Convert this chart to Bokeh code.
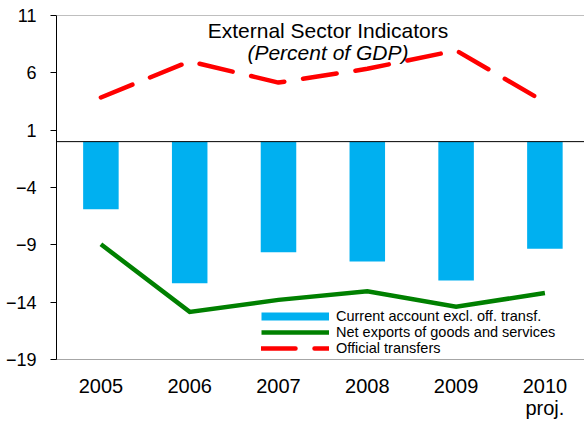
from bokeh.plotting import figure
from bokeh.models import Range1d, FixedTicker, Span, Label, Legend, LegendItem, ColumnDataSource
from bokeh.embed import file_html
from bokeh.resources import INLINE

years = ["2005", "2006", "2007", "2008", "2009", "2010\nproj."]
current_account = [-5.9, -12.35, -9.65, -10.45, -12.1, -9.35]
net_exports = [-8.95, -14.85, -13.8, -13.05, -14.4, -13.2]
official_transfers = [3.85, 7.0, 5.15, 6.35, 7.95, 3.45]
y_ticks = [-19, -14, -9, -4, 1, 6, 11]

xs = list(range(len(years)))
src = ColumnDataSource(dict(x=xs, ca=current_account, ne=net_exports, ot=official_transfers))

FONT = "Liberation Sans"
BLUE = "#00B0F0"
GREEN = "#008000"
RED = "#FF0000"

p = figure(width=584, height=421, output_backend="svg", toolbar_location=None,
           x_range=Range1d(-0.5, 5.446), y_range=Range1d(-19, 11),
           min_border_left=56, min_border_right=0, min_border_top=15, min_border_bottom=62)
p.outline_line_color = None
p.xgrid.visible = False
p.ygrid.visible = False

bars = p.vbar(x="x", top="ca", bottom=0, width=0.4, source=src, fill_color=BLUE, line_color=None)
gl = p.line(x="x", y="ne", source=src, line_color=GREEN, line_width=4.5, line_join="miter")
rl = p.line(x="x", y="ot", source=src, line_color=RED, line_width=4.5, line_dash="34 19", line_cap="round")

# legend proxy for the bar series (thin band like the reference)
proxy = p.line(x=[float("nan")], y=[float("nan")], line_color=BLUE, line_width=8)

p.add_layout(Span(location=0, dimension="width", line_color="black", line_width=1))
p.add_layout(Span(location=11, dimension="width", line_color="#808080", line_width=1))

# axes
p.yaxis.ticker = FixedTicker(ticks=y_ticks)
p.yaxis.axis_line_color = "black"
p.yaxis.major_tick_line_color = "black"
p.yaxis.major_tick_out = 6
p.yaxis.major_tick_in = 0
p.yaxis.minor_tick_line_color = None
p.yaxis.major_label_standoff = 14
p.yaxis.major_label_text_font = FONT
p.yaxis.major_label_text_font_size = "18px"
p.yaxis.major_label_text_color = "black"

p.xaxis.ticker = FixedTicker(ticks=xs)
p.xaxis.major_label_overrides = {i: years[i] for i in xs}
p.xaxis.axis_line_color = "#a6a6a6"
p.xaxis.major_tick_line_color = None
p.xaxis.minor_tick_line_color = None
p.xaxis.major_tick_out = 0
p.xaxis.major_tick_in = 0
p.xaxis.major_label_standoff = 15
p.xaxis.major_label_text_font = FONT
p.xaxis.major_label_text_font_size = "20px"
p.xaxis.major_label_text_line_height = 1.0
p.xaxis.major_label_text_color = "black"

# title inside plot
p.add_layout(Label(x=2.557, y=9.71, text="External Sector Indicators", text_align="center",
                   text_baseline="middle", text_font=FONT, text_font_size="21px", text_color="black"))
p.add_layout(Label(x=2.557, y=7.73, text="(Percent of GDP)", text_align="center",
                   text_baseline="middle", text_font=FONT, text_font_size="21px",
                   text_font_style="italic", text_color="black"))

legend = Legend(items=[
    LegendItem(label="Current account excl. off. transf.", renderers=[proxy]),
    LegendItem(label="Net exports of goods and services", renderers=[gl]),
    LegendItem(label="Official transfers", renderers=[rl]),
], location=(205, 3), orientation="vertical")
legend.label_text_font = FONT
legend.label_text_font_size = "14.5px"
legend.label_text_color = "black"
legend.glyph_width = 68
legend.glyph_height = 16
legend.label_height = 16
legend.spacing = 0
legend.padding = 0
legend.margin = 0
legend.label_standoff = 7
legend.background_fill_alpha = 0
legend.border_line_alpha = 0
p.add_layout(legend)

open("out.html", "w").write(file_html(p, INLINE))
